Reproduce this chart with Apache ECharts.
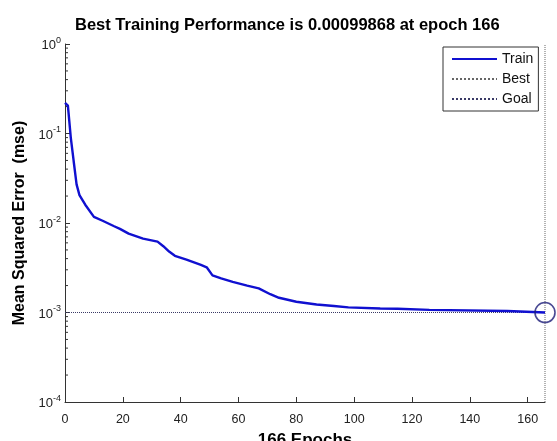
<!DOCTYPE html>
<html>
<head>
<meta charset="utf-8">
<script src="https://cdn.jsdelivr.net/npm/echarts@6/dist/echarts.min.js"></script>
<style>
  html, body { margin: 0; padding: 0; background: #fff; }
  #chart { width: 557px; height: 441px; }
</style>
</head>
<body>
<div id="chart"></div>
<script>
// training performance
var epochs = [0, 1, 2, 3, 4, 5, 7, 10, 13, 17, 19, 22, 27, 32, 34, 36, 38, 42, 47, 49, 51, 54, 58, 63, 67, 71, 74, 80, 87, 93, 98, 109, 115, 126, 153, 166]
var trainMse = [0.22, 0.205, 0.09, 0.049, 0.027, 0.0205, 0.016, 0.0117, 0.0106, 0.0092, 0.0086, 0.0076, 0.0067, 0.0062, 0.0055, 0.0048, 0.0043, 0.0039, 0.0034, 0.0032, 0.0026, 0.0024, 0.0022, 0.002, 0.00186, 0.0016, 0.00146, 0.00132, 0.00123, 0.00118, 0.00114, 0.00111, 0.0011, 0.00107, 0.00104, 0.00099868]
var bestEpoch = 166
var bestPerf = 0.00099868
var goal = 0.001
var xTicks = [0, 20, 40, 60, 80, 100, 120, 140, 160]
var yDecades = [1e-4, 1e-3, 1e-2, 1e-1, 1]

var font = 'Liberation Sans, Arial, sans-serif'
var chart = echarts.init(document.getElementById('chart'))

// minor ticks 2..9 inside each decade (matlab style)
var minorTicks = []
for (var d = 0; d < yDecades.length - 1; d++) {
  for (var m = 2; m <= 9; m++) {
    minorTicks.push([0, yDecades[d] * m])
  }
}

chart.setOption({
  animation: false,
  title: {
    text: 'Best Training Performance is ' + bestPerf + ' at epoch ' + bestEpoch,
    left: 70,
    top: 12,
    textStyle: { fontFamily: font, fontSize: 16.5, fontWeight: 'bold', color: '#000' }
  },
  grid: { left: 65, right: 12, top: 44, bottom: 39, outerBoundsMode: 'none' },
  legend: {
    data: ['Train', 'Best', 'Goal'],
    orient: 'vertical',
    left: 443,
    top: 47,
    itemWidth: 45,
    itemHeight: 14,
    itemGap: 6,
    padding: [5, 5, 5, 8],
    borderColor: '#333',
    borderWidth: 1,
    backgroundColor: '#fff',
    itemStyle: { opacity: 0 },
    textStyle: { fontFamily: font, fontSize: 14, color: '#111' }
  },
  xAxis: {
    type: 'value',
    min: 0,
    max: bestEpoch,
    interval: 20,
    name: bestEpoch + ' Epochs',
    nameLocation: 'middle',
    nameGap: 30,
    nameTextStyle: { fontFamily: font, fontSize: 17, fontWeight: 'bold', color: '#000' },
    axisLine: { lineStyle: { color: '#333', width: 1 } },
    axisTick: { inside: true, length: 5, lineStyle: { color: '#333' } },
    axisLabel: {
      fontFamily: font, fontSize: 12.5, color: '#222', margin: 11,
      showMaxLabel: false,
      formatter: function (v) { return xTicks.indexOf(v) >= 0 ? v : '' }
    },
    splitLine: { show: false }
  },
  yAxis: {
    type: 'log',
    logBase: 10,
    min: 1e-4,
    max: 1,
    name: 'Mean Squared Error  (mse)',
    nameLocation: 'middle',
    nameGap: 36,
    nameTextStyle: { fontFamily: font, fontSize: 16, fontWeight: 'bold', color: '#000' },
    axisLine: { show: true, lineStyle: { color: '#333', width: 1 } },
    axisTick: { inside: true, length: 5, lineStyle: { color: '#333' } },
    axisLabel: {
      margin: 4,
      formatter: function (v) {
        var e = Math.round(Math.log10(v))
        return '{b|10}{s|' + e + '}'
      },
      rich: {
        b: { fontFamily: font, fontSize: 13, color: '#222', lineHeight: 16, verticalAlign: 'bottom' },
        s: { fontFamily: font, fontSize: 9, color: '#222', lineHeight: 16, verticalAlign: 'top', padding: [0, 0, 8, 0] }
      }
    },
    splitLine: { show: false }
  },
  series: [
    {
      name: 'Train',
      type: 'line',
      symbol: 'none',
      data: epochs.map(function (e, i) { return [e, trainMse[i]] }),
      lineStyle: { color: '#1010d0', width: 2.4 },
      itemStyle: { color: '#1010d0' },
      z: 5
    },
    {
      name: 'Best',
      type: 'line',
      symbol: 'none',
      data: [[bestEpoch, 1e-4], [bestEpoch, 1]],
      lineStyle: { color: '#666', width: 1, type: 'dotted' },
      itemStyle: { color: '#666' },
      z: 3
    },
    {
      name: 'Goal',
      type: 'line',
      symbol: 'none',
      data: [[0, goal], [bestEpoch, goal]],
      lineStyle: { color: '#3a3a66', width: 1, type: 'dotted' },
      itemStyle: { color: '#3a3a66' },
      z: 3
    },
    {
      name: 'bestPoint',
      type: 'scatter',
      symbol: 'circle',
      symbolSize: 20,
      data: [[bestEpoch, bestPerf]],
      itemStyle: { color: 'rgba(0,0,0,0)', borderColor: '#1c1c78', borderWidth: 1.6 },
      z: 6
    },
    {
      name: 'minorTicks',
      type: 'custom',
      silent: true,
      data: minorTicks,
      renderItem: function (params, api) {
        var p = api.coord([api.value(0), api.value(1)])
        return {
          type: 'line',
          shape: { x1: p[0], y1: p[1], x2: p[0] + 3, y2: p[1] },
          style: { stroke: '#333', lineWidth: 1 }
        }
      }
    }
  ]
})
</script>
</body>
</html>
